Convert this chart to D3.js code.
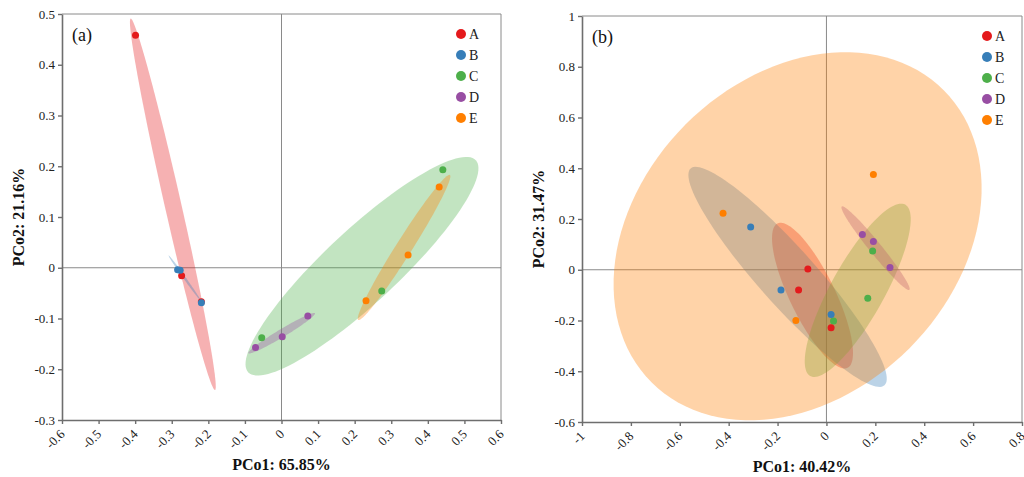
<!DOCTYPE html>
<html lang="en">
<head>
<meta charset="UTF-8">
<title>PCoA</title>
<style>
  body { margin: 0; background: #fff; }
  svg { display: block; font-family: "Liberation Serif", "Times New Roman", serif; }
</style>
</head>
<body>
<div id="chart"></div>
<script src="https://d3js.org/d3.v7.min.js"></script>
<script>
const groups = ['A', 'B', 'C', 'D', 'E']
const groupColors = ['#e41a1c', '#377eb8', '#4daf4a', '#984ea3', '#ff7f00']

// panel (a): [group, PCo1, PCo2]
const pointsA = [
  ['A', -0.399, 0.458], ['A', -0.273, -0.016], ['A', -0.219, -0.067],
  ['B', -0.284, -0.004], ['B', -0.277, -0.005], ['B', -0.219, -0.069],
  ['C', -0.054, -0.138], ['C', 0.274, -0.046], ['C', 0.441, 0.193],
  ['D', -0.071, -0.157], ['D', 0.002, -0.136], ['D', 0.072, -0.095],
  ['E', 0.231, -0.065], ['E', 0.346, 0.025], ['E', 0.431, 0.159]
]
// ellipses: [group, cx, cy, ux, uy, vx, vy] -> centre and two semi-axis vectors (data units)
const ellipsesA = [
  ['A', -0.297, 0.125, 0.1152, -0.3659, 0.0221, 0.0036],
  ['B', -0.265, -0.020, 0.0437, -0.0443, 0.0027, 0.0014],
  ['C', 0.220, 0.003, 0.311, 0.2089, 0.068, -0.0526],
  ['D', 0.0005, -0.129, 0.091, 0.0394, 0.0056, -0.0068],
  ['E', 0.335, 0.040, 0.1252, 0.1429, 0.0185, -0.0084]
]
const xTicksA = [-0.6, -0.5, -0.4, -0.3, -0.2, -0.1, 0, 0.1, 0.2, 0.3, 0.4, 0.5, 0.6]
const yTicksA = [-0.3, -0.2, -0.1, 0, 0.1, 0.2, 0.3, 0.4, 0.5]
const titlesA = ['(a)', 'PCo1: 65.85%', 'PCo2: 21.16%']

// panel (b)
const pointsB = [
  ['C', 0.189, 0.074], ['C', 0.169, -0.112], ['C', 0.029, -0.202],
  ['A', -0.076, 0.003], ['A', -0.114, -0.080], ['A', 0.019, -0.229],
  ['B', -0.310, 0.168], ['B', -0.186, -0.080], ['B', 0.019, -0.176],
  ['D', 0.147, 0.139], ['D', 0.192, 0.111], ['D', 0.260, 0.009],
  ['E', -0.423, 0.223], ['E', 0.192, 0.375], ['E', -0.125, -0.200]
]
const ellipsesB = [
  ['A', -0.057, -0.102, 0.1431, -0.2845, 0.0835, 0.039],
  ['B', -0.159, -0.028, 0.3964, -0.4272, 0.0867, 0.0745],
  ['C', 0.128, -0.081, 0.1943, 0.3377, 0.0961, -0.0512],
  ['D', 0.201, 0.085, 0.1383, -0.1643, 0.0191, 0.0149],
  ['E', -0.118, 0.132, 0.5977, 0.5758, 0.4578, -0.441]
]
const xTicksB = [-1, -0.8, -0.6, -0.4, -0.2, 0, 0.2, 0.4, 0.6, 0.8]
const yTicksB = [-0.6, -0.4, -0.2, 0, 0.2, 0.4, 0.6, 0.8, 1]
const titlesB = ['(b)', 'PCo1: 40.42%', 'PCo2: 31.47%']

const width = 1024
const height = 477
const serif = '"Liberation Serif", "Times New Roman", serif'
const svg = d3.select('#chart').append('svg').attr('width', width).attr('height', height)
const color = d3.scaleOrdinal().domain(groups).range(groupColors)

function drawPanel(box, points, ellipses, xTicks, yTicks, titles) {
  const x = d3.scaleLinear().domain(d3.extent(xTicks)).range([box.left, box.right])
  const y = d3.scaleLinear().domain(d3.extent(yTicks)).range([box.bottom, box.top])
  const g = svg.append('g')

  // zero cross lines
  g.append('line').attr('x1', x(0)).attr('x2', x(0)).attr('y1', box.top).attr('y2', box.bottom)
    .attr('stroke', '#8a8a8a').attr('stroke-width', 1)
  g.append('line').attr('x1', box.left).attr('x2', box.right).attr('y1', y(0)).attr('y2', y(0))
    .attr('stroke', '#8a8a8a').attr('stroke-width', 1)

  // ellipses
  const steps = d3.range(0, 121).map(i => i / 120 * 2 * Math.PI)
  const line = d3.line().curve(d3.curveLinearClosed)
  g.selectAll('path.ell').data(ellipses).enter().append('path')
    .attr('class', 'ell')
    .attr('d', e => line(steps.map(t => [
      x(e[1] + e[3] * Math.cos(t) + e[5] * Math.sin(t)),
      y(e[2] + e[4] * Math.cos(t) + e[6] * Math.sin(t))
    ])))
    .attr('fill', e => color(e[0]))
    .attr('fill-opacity', 0.34)

  // points
  g.selectAll('circle.pt').data(points).enter().append('circle')
    .attr('class', 'pt')
    .attr('cx', d => x(d[1]))
    .attr('cy', d => y(d[2]))
    .attr('r', 3.5)
    .attr('fill', d => color(d[0]))

  // frame
  g.append('path')
    .attr('d', `M${box.left},${box.top}H${box.right}V${box.bottom}`)
    .attr('fill', 'none').attr('stroke', '#8a8a8a').attr('stroke-width', 1)

  // axes
  const gy = g.append('g').attr('transform', `translate(${box.left},0)`)
    .call(d3.axisLeft(y).tickValues(yTicks).tickFormat(d => String(d)).tickSize(4).tickSizeOuter(0))
  const gx = g.append('g').attr('transform', `translate(0,${box.bottom})`)
    .call(d3.axisBottom(x).tickValues(xTicks).tickFormat(d => String(d)).tickSize(4).tickSizeOuter(0))
  for (const ax of [gx, gy]) {
    ax.attr('font-family', serif).attr('font-size', 13)
    ax.select('.domain').attr('stroke', '#6e6e6e').attr('stroke-width', 1.6)
    ax.selectAll('.tick line').attr('stroke', '#6e6e6e').attr('stroke-width', 1.4)
    ax.selectAll('.tick text').attr('fill', '#222')
  }
  gy.selectAll('.tick text').attr('x', -7)
  gx.selectAll('.tick text')
    .attr('y', 0).attr('dy', 0)
    .attr('text-anchor', 'end')
    .attr('transform', 'translate(3,15) rotate(-45)')

  // panel label
  g.append('text').attr('x', box.left + 10).attr('y', box.top + 27)
    .attr('font-size', 18).attr('fill', '#111').text(titles[0])

  // axis titles
  g.append('text').attr('x', (box.left + box.right) / 2).attr('y', box.bottom + 50)
    .attr('text-anchor', 'middle').attr('font-size', 16).attr('font-weight', 'bold')
    .attr('fill', '#111').text(titles[1])
  g.append('text')
    .attr('transform', `translate(${box.left - 38},${(box.top + box.bottom) / 2}) rotate(-90)`)
    .attr('text-anchor', 'middle').attr('font-size', 16).attr('font-weight', 'bold')
    .attr('fill', '#111').text(titles[2])

  // legend
  const lg = g.append('g').attr('transform', `translate(${box.right - box.legendOffset},${box.top + 20})`)
  const item = lg.selectAll('g').data(groups).enter().append('g')
    .attr('transform', (d, i) => `translate(0,${i * 21})`)
  item.append('circle').attr('r', 5).attr('fill', d => color(d))
  item.append('text').attr('x', 8).attr('y', 5).attr('font-size', 14).attr('fill', '#222').text(d => d)
}

drawPanel({ left: 62, right: 501, top: 14, bottom: 420, legendOffset: 40 }, pointsA, ellipsesA, xTicksA, yTicksA, titlesA)
drawPanel({ left: 582, right: 1022, top: 16, bottom: 422, legendOffset: 35 }, pointsB, ellipsesB, xTicksB, yTicksB, titlesB)
</script>
</body>
</html>
